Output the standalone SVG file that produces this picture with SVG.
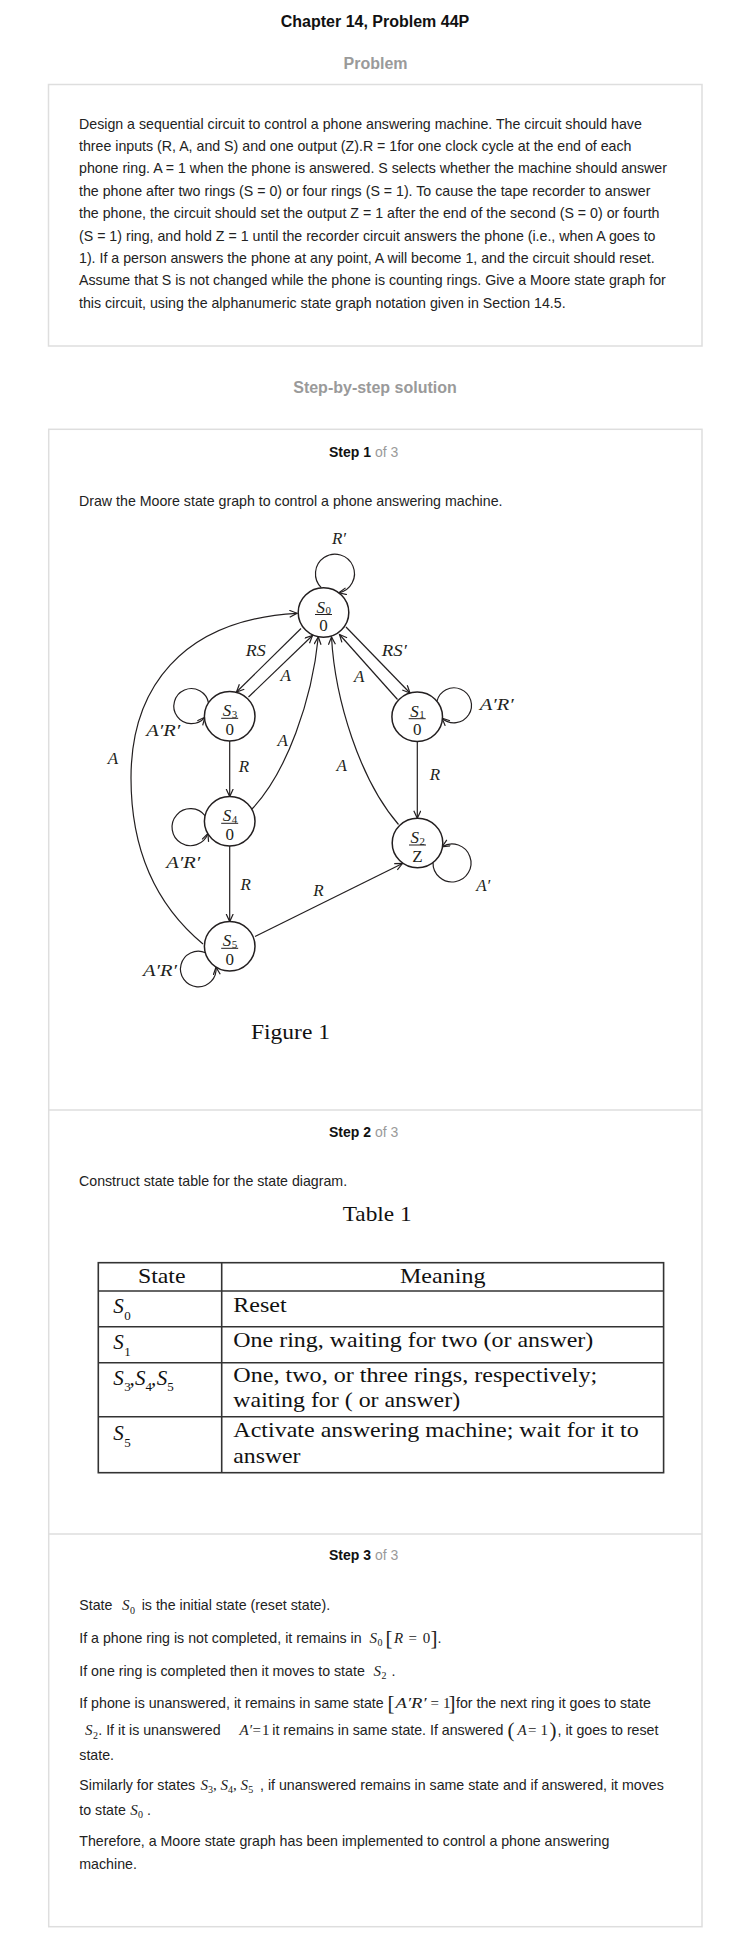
<svg xmlns="http://www.w3.org/2000/svg" width="752" height="1954" viewBox="0 0 752 1954">
<style>
.body{font-family:"Liberation Sans",Arial,sans-serif;font-size:14.2px;fill:#222}
.head{font-family:"Liberation Sans",Arial,sans-serif;font-size:16px;font-weight:bold;text-anchor:middle}
.step{font-family:"Liberation Sans",Arial,sans-serif;font-size:14px;fill:#111}
.gray{fill:#9a9a9a}
.box{fill:#fff;stroke:#dedede;stroke-width:1.5}
.div{stroke:#dedede;stroke-width:1.5}
.st{fill:#fff;stroke:#231f20;stroke-width:1.5}
.bar{stroke:#231f20;stroke-width:1}
.sl{font-family:"Liberation Serif","Times New Roman",serif;font-style:italic;font-size:17px;fill:#231f20}
.sub{font-family:"Liberation Serif","Times New Roman",serif;font-size:11px;fill:#231f20}
.sv{font-family:"Liberation Serif","Times New Roman",serif;font-size:17px;fill:#231f20;text-anchor:middle}
.lbl{font-family:"Liberation Serif","Times New Roman",serif;font-style:italic;font-size:17px;fill:#231f20;text-anchor:middle}
.edge{fill:none;stroke:#231f20;stroke-width:1.2;marker-end:url(#arr)}
.tb{font-family:"Liberation Serif","Times New Roman",serif;font-size:22px;fill:#111}
.tbi{font-family:"Liberation Serif","Times New Roman",serif;font-size:21px;font-style:italic;fill:#111}
.tbs{font-family:"Liberation Serif","Times New Roman",serif;font-size:13px;fill:#111}
.tl{stroke:#333;stroke-width:1.6}
.mi{font-family:"Liberation Serif","Times New Roman",serif;font-style:italic;font-size:15px;fill:#222}
.mr{font-family:"Liberation Serif","Times New Roman",serif;font-size:15px;fill:#222}
.ms{font-family:"Liberation Serif","Times New Roman",serif;font-size:10px;fill:#222}
.mb{font-family:"Liberation Serif","Times New Roman",serif;font-size:21px;fill:#222}
</style>
<defs>
<marker id="arr" markerWidth="10" markerHeight="10" refX="8" refY="4" orient="auto" markerUnits="userSpaceOnUse">
<path d="M0.5,0.5 L8,4 L0.5,7.5" fill="none" stroke="#231f20" stroke-width="1.2"/>
</marker>
</defs>
<rect x="0" y="0" width="752" height="1954" fill="#fff"/>

<g id="header">
<text class="head" x="375" y="27" fill="#111">Chapter 14, Problem 44P</text>
<text class="head gray" x="375.5" y="68.5">Problem</text>
</g>

<g id="problem">
<rect class="box" x="48.5" y="84.5" width="653.5" height="261.5"/>
<text class="body" x="79" y="128.5">Design a sequential circuit to control a phone answering machine. The circuit should have</text>
<text class="body" x="79" y="150.9">three inputs (R, A, and S) and one output (Z).R = 1for one clock cycle at the end of each</text>
<text class="body" x="79" y="173.3">phone ring. A = 1 when the phone is answered. S selects whether the machine should answer</text>
<text class="body" x="79" y="195.7">the phone after two rings (S = 0) or four rings (S = 1). To cause the tape recorder to answer</text>
<text class="body" x="79" y="218.1">the phone, the circuit should set the output Z = 1 after the end of the second (S = 0) or fourth</text>
<text class="body" x="79" y="240.5">(S = 1) ring, and hold Z = 1 until the recorder circuit answers the phone (i.e., when A goes to</text>
<text class="body" x="79" y="262.9">1). If a person answers the phone at any point, A will become 1, and the circuit should reset.</text>
<text class="body" x="79" y="285.3">Assume that S is not changed while the phone is counting rings. Give a Moore state graph for</text>
<text class="body" x="79" y="307.7">this circuit, using the alphanumeric state graph notation given in Section 14.5.</text>
</g>

<text class="head gray" x="375" y="393">Step-by-step solution</text>

<g id="solution">
<rect class="box" x="48.7" y="429.3" width="653.3" height="1497.4"/>
<line class="div" x1="48.7" y1="1110" x2="702" y2="1110"/>
<line class="div" x1="48.7" y1="1534" x2="702" y2="1534"/>
</g>

<g id="step1">
<text class="step" x="329" y="456.5"><tspan font-weight="bold">Step 1</tspan><tspan class="gray"> of 3</tspan></text>
<text class="body" x="79" y="505.5">Draw the Moore state graph to control a phone answering machine.</text>
</g>

<g id="connectors">
<path class="edge" d="M321.3,587.6 A19.5,19.5 0 1 1 338.9,592.8"/>
<path class="edge" d="M301,628.5 L236.5,692"/>
<path class="edge" d="M248.5,697 L312.5,635.5"/>
<path class="edge" d="M346,627 L410,693"/>
<path class="edge" d="M397.5,699.5 L339.5,634.5"/>
<path class="edge" d="M208.6,703.2 A17.5,17.5 0 1 0 204.8,717.3"/>
<path class="edge" d="M436.9,701.4 A17.5,17.5 0 1 1 442.1,718.2"/>
<path class="edge" d="M229.7,741 L229.7,796.5"/>
<path class="edge" d="M417.3,741.2 L417.3,818.3"/>
<path class="edge" d="M252,809 C287,772 312,700 318.3,637"/>
<path class="edge" d="M398.5,824.5 C360,780 335,700 331.5,637"/>
<path class="edge" d="M203,944 C150,900 131,840 131,778 C131,690 180,620 297,613.3"/>
<path class="edge" d="M205.3,816 A18.5,18.5 0 1 0 207.9,833.6"/>
<path class="edge" d="M229.7,846 L229.7,921.5"/>
<path class="edge" d="M255,936.5 L402.5,863.5"/>
<path class="edge" d="M205.6,952.8 A17.8,17.8 0 1 0 216,967.2"/>
<path class="edge" d="M433,862.5 A19,19 0 1 0 442.2,846.7"/>
</g>

<g id="edge-labels">
<text class="lbl" x="339" y="544">R′</text>
<text class="lbl" x="255.7" y="656" textLength="20" lengthAdjust="spacingAndGlyphs">RS</text>
<text class="lbl" x="285.7" y="680.5">A</text>
<text class="lbl" x="394.3" y="656" textLength="25" lengthAdjust="spacingAndGlyphs">RS′</text>
<text class="lbl" x="359.3" y="681.5">A</text>
<text class="lbl" x="163.3" y="736" textLength="34" lengthAdjust="spacingAndGlyphs">A′R′</text>
<text class="lbl" x="496.7" y="710" textLength="34" lengthAdjust="spacingAndGlyphs">A′R′</text>
<text class="lbl" x="244" y="772">R</text>
<text class="lbl" x="435" y="779.5">R</text>
<text class="lbl" x="282.7" y="745.5">A</text>
<text class="lbl" x="341.6" y="770.5">A</text>
<text class="lbl" x="113" y="763.5">A</text>
<text class="lbl" x="183.3" y="868" textLength="34" lengthAdjust="spacingAndGlyphs">A′R′</text>
<text class="lbl" x="245.7" y="889.5">R</text>
<text class="lbl" x="318.5" y="896">R</text>
<text class="lbl" x="160" y="975.5" textLength="34" lengthAdjust="spacingAndGlyphs">A′R′</text>
<text class="lbl" x="483.3" y="890.5">A′</text>
</g>

<g id="S0">
<ellipse class="st" cx="323.5" cy="612.5" rx="25.3" ry="24.7"/>
<text class="sl" x="316.5" y="612.5">S</text><text class="sub" x="325.5" y="614">0</text>
<line class="bar" x1="315" y1="614.5" x2="332" y2="614.5"/>
<text class="sv" x="323.5" y="631">0</text>
</g>
<g id="S3">
<ellipse class="st" cx="229.7" cy="716.3" rx="25.3" ry="24.7"/>
<text class="sl" x="222.7" y="716.3">S</text><text class="sub" x="231.7" y="717.8">3</text>
<line class="bar" x1="221.2" y1="718.3" x2="238.2" y2="718.3"/>
<text class="sv" x="229.7" y="734.8">0</text>
</g>
<g id="S1">
<ellipse class="st" cx="417.2" cy="716.7" rx="25.3" ry="24.7"/>
<text class="sl" x="410.2" y="716.7">S</text><text class="sub" x="419.2" y="718.2">1</text>
<line class="bar" x1="408.7" y1="718.7" x2="425.7" y2="718.7"/>
<text class="sv" x="417.2" y="735.2">0</text>
</g>
<g id="S4">
<ellipse class="st" cx="229.7" cy="821.3" rx="25.3" ry="24.7"/>
<text class="sl" x="222.7" y="821.3">S</text><text class="sub" x="231.7" y="822.8">4</text>
<line class="bar" x1="221.2" y1="823.3" x2="238.2" y2="823.3"/>
<text class="sv" x="229.7" y="839.8">0</text>
</g>
<g id="S2">
<ellipse class="st" cx="417.5" cy="843" rx="25.3" ry="24.7"/>
<text class="sl" x="410.5" y="843">S</text><text class="sub" x="419.5" y="844.5">2</text>
<line class="bar" x1="409" y1="845" x2="426" y2="845"/>
<text class="sv" x="417.5" y="861.5">Z</text>
</g>
<g id="S5">
<ellipse class="st" cx="229.7" cy="946.3" rx="25.3" ry="24.7"/>
<text class="sl" x="222.7" y="946.3">S</text><text class="sub" x="231.7" y="947.8">5</text>
<line class="bar" x1="221.2" y1="948.3" x2="238.2" y2="948.3"/>
<text class="sv" x="229.7" y="964.8">0</text>
</g>

<text class="tb" x="251" y="1038.5" textLength="79" lengthAdjust="spacingAndGlyphs">Figure 1</text>

<g id="step2">
<text class="step" x="329" y="1137"><tspan font-weight="bold">Step 2</tspan><tspan class="gray"> of 3</tspan></text>
<text class="body" x="79" y="1185.5">Construct state table for the state diagram.</text>
<text class="tb" x="342.7" y="1221" textLength="69" lengthAdjust="spacingAndGlyphs">Table 1</text>
</g>

<g id="table">
<rect x="98.3" y="1262.7" width="565.3" height="210" fill="none" class="tl"/>
<line class="tl" x1="221.7" y1="1262.7" x2="221.7" y2="1472.7"/>
<line class="tl" x1="98.3" y1="1291" x2="663.6" y2="1291"/>
<line class="tl" x1="98.3" y1="1326.7" x2="663.6" y2="1326.7"/>
<line class="tl" x1="98.3" y1="1362.7" x2="663.6" y2="1362.7"/>
<line class="tl" x1="98.3" y1="1416.7" x2="663.6" y2="1416.7"/>
<text class="tb" x="161.7" y="1283.3" text-anchor="middle" textLength="47.6" lengthAdjust="spacingAndGlyphs">State</text>
<text class="tb" x="400" y="1283.3" textLength="85.4" lengthAdjust="spacingAndGlyphs">Meaning</text>
<text class="tbi" x="113.3" y="1313">S</text><text class="tbs" x="124.3" y="1320">0</text>
<text class="tbi" x="113.3" y="1349.3">S</text><text class="tbs" x="124.3" y="1356">1</text>
<text class="tbi" x="113.3" y="1385">S</text><text class="tbs" x="124.3" y="1391">3</text><text class="tbi" x="129.5" y="1385">,</text>
<text class="tbi" x="135" y="1385">S</text><text class="tbs" x="145.5" y="1391">4</text><text class="tbi" x="151" y="1385">,</text>
<text class="tbi" x="156.7" y="1385">S</text><text class="tbs" x="167.3" y="1391">5</text>
<text class="tbi" x="113.3" y="1440">S</text><text class="tbs" x="124.3" y="1446.5">5</text>
<text class="tb" x="233.3" y="1311.7" textLength="53.3" lengthAdjust="spacingAndGlyphs">Reset</text>
<text class="tb" x="233.3" y="1346.7" textLength="360" lengthAdjust="spacingAndGlyphs">One ring, waiting for two (or answer)</text>
<text class="tb" x="233.3" y="1382.3" textLength="364" lengthAdjust="spacingAndGlyphs">One, two, or three rings, respectively;</text>
<text class="tb" x="233.3" y="1406.7" textLength="226.8" lengthAdjust="spacingAndGlyphs">waiting for ( or answer)</text>
<text class="tb" x="233.3" y="1436.7" textLength="405.4" lengthAdjust="spacingAndGlyphs">Activate answering machine; wait for it to</text>
<text class="tb" x="233.3" y="1463.3" textLength="67.2" lengthAdjust="spacingAndGlyphs">answer</text>
</g>

<g id="step3">
<text class="step" x="329" y="1560"><tspan font-weight="bold">Step 3</tspan><tspan class="gray"> of 3</tspan></text>

<text class="body" x="79.3" y="1610">State</text>
<text class="mi" x="122" y="1610">S</text><text class="ms" x="130" y="1613.5">0</text>
<text class="body" x="141.7" y="1610">is the initial state (reset state).</text>

<text class="body" x="79.3" y="1642.7">If a phone ring is not completed, it remains in</text>
<text class="mi" x="369.5" y="1642.7">S</text><text class="ms" x="377.5" y="1646.2">0</text>
<text class="mb" x="385.5" y="1644.5">[</text>
<text class="mi" x="394" y="1642.7">R</text>
<text class="mr" x="408.5" y="1642.7">=</text>
<text class="mr" x="422.7" y="1642.7">0</text>
<text class="mb" x="430.5" y="1644.5">]</text>
<text class="body" x="437.5" y="1642.7">.</text>

<text class="body" x="79.3" y="1675.7">If one ring is completed then it moves to state</text>
<text class="mi" x="373.5" y="1675.7">S</text><text class="ms" x="381.5" y="1679.2">2</text>
<text class="body" x="391.5" y="1675.7">.</text>

<text class="body" x="79.3" y="1708.3">If phone is unanswered, it remains in same state</text>
<text class="mb" x="387.5" y="1710">[</text>
<text class="mi" x="395.5" y="1708.3" textLength="31" lengthAdjust="spacingAndGlyphs">A′R′</text>
<text class="mr" x="430.5" y="1708.3">=</text>
<text class="mr" x="443" y="1708.3">1</text>
<text class="mb" x="448.5" y="1710">]</text>
<text class="body" x="456" y="1708.3">for the next ring it goes to state</text>

<text class="mi" x="85" y="1735">S</text><text class="ms" x="93" y="1738.5">2</text>
<text class="body" x="98.3" y="1735">. If it is unanswered</text>
<text class="mi" x="239.5" y="1735">A′</text>
<text class="mr" x="252.5" y="1735">=</text>
<text class="mr" x="262" y="1735">1</text>
<text class="body" x="272.3" y="1735">it remains in same state. If answered</text>
<text class="mb" x="507.5" y="1737">(</text>
<text class="mi" x="517.5" y="1735">A</text>
<text class="mr" x="528" y="1735">=</text>
<text class="mr" x="540.5" y="1735">1</text>
<text class="mb" x="549.5" y="1737">)</text>
<text class="body" x="557.5" y="1735">, it goes to reset</text>

<text class="body" x="79.3" y="1760">state.</text>

<text class="body" x="79.3" y="1789.5">Similarly for states</text>
<text class="mi" x="200.4" y="1789.5">S</text><text class="ms" x="208" y="1793">3</text><text class="mr" x="213" y="1789.5">,</text>
<text class="mi" x="220.5" y="1789.5">S</text><text class="ms" x="228.1" y="1793">4</text><text class="mr" x="233.1" y="1789.5">,</text>
<text class="mi" x="240.6" y="1789.5">S</text><text class="ms" x="248.2" y="1793">5</text>
<text class="body" x="260" y="1789.5">, if unanswered remains in same state and if answered, it moves</text>

<text class="body" x="79.3" y="1814.5">to state</text>
<text class="mi" x="130.2" y="1814.5">S</text><text class="ms" x="138" y="1818">0</text>
<text class="body" x="147" y="1814.5">.</text>

<text class="body" x="79.3" y="1845.5">Therefore, a Moore state graph has been implemented to control a phone answering</text>
<text class="body" x="79.3" y="1868.8">machine.</text>
</g>
</svg>
